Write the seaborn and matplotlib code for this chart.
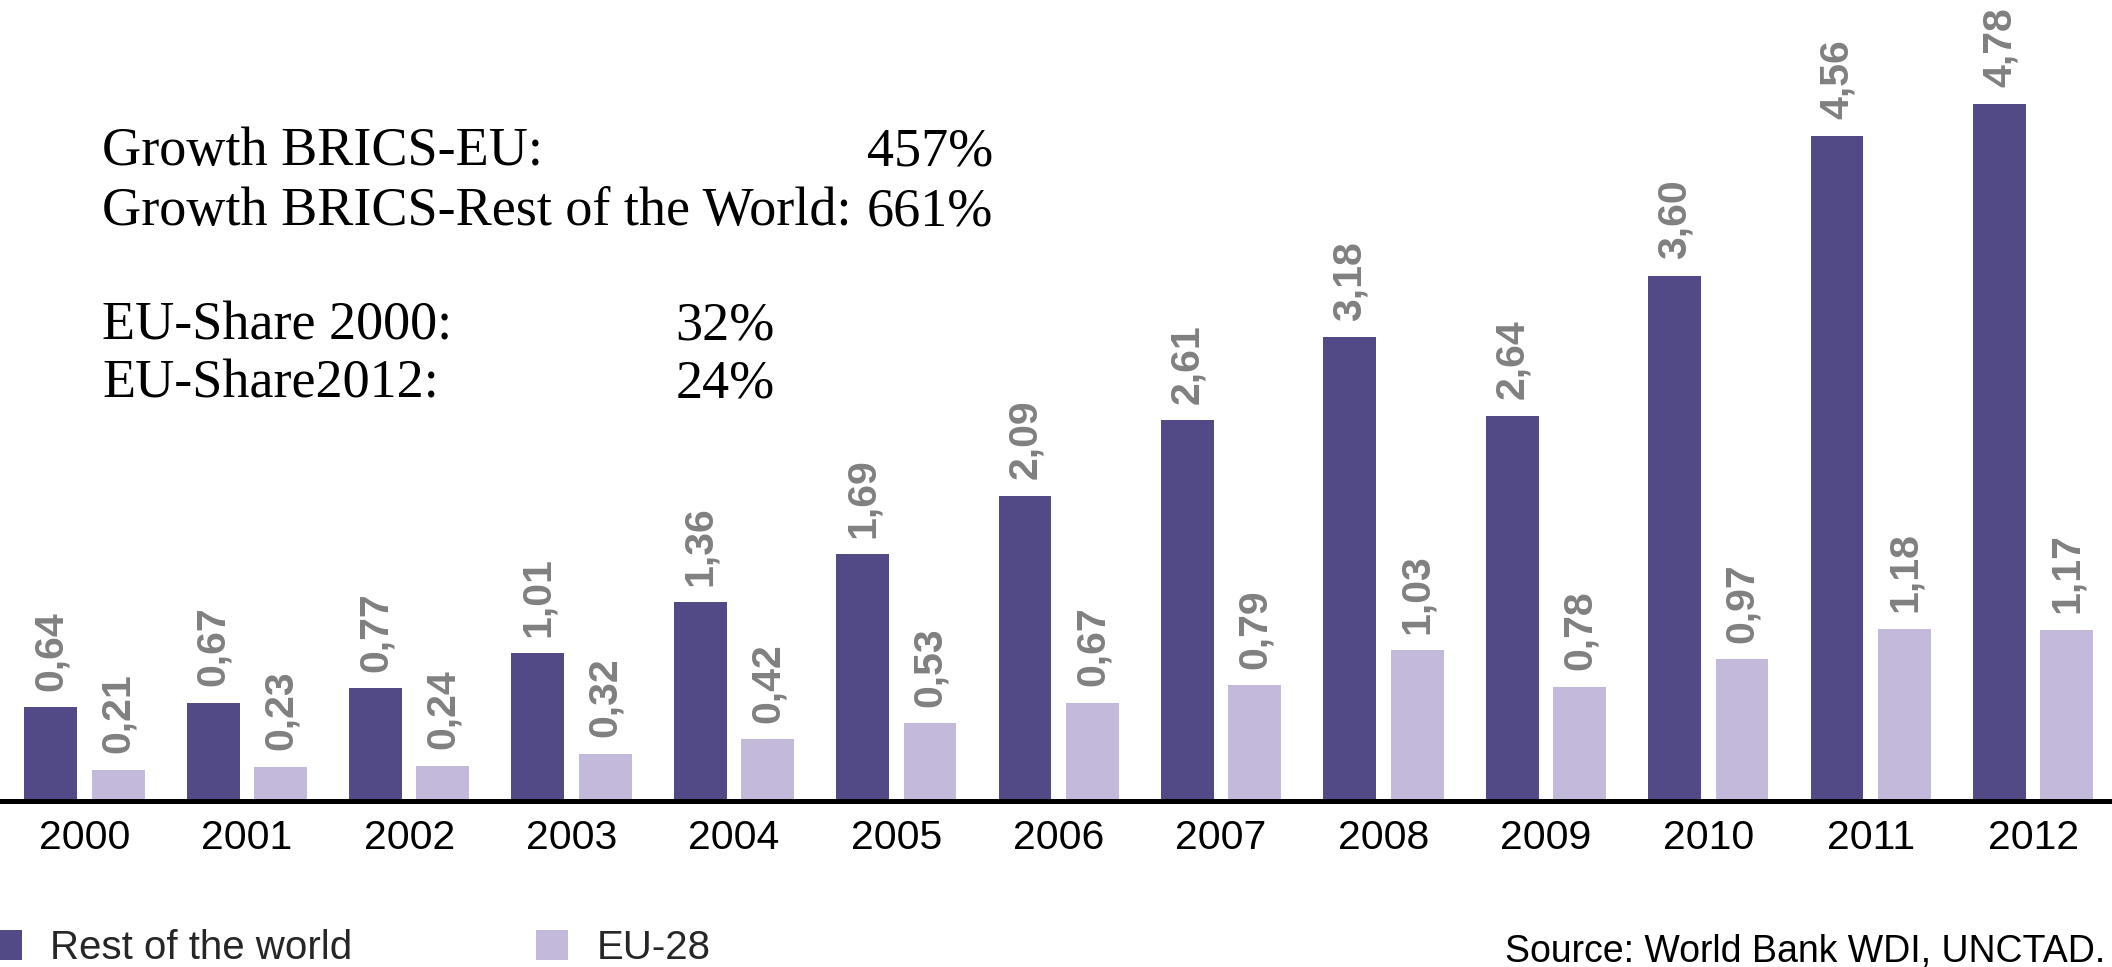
import matplotlib
matplotlib.use("Agg")
import matplotlib.pyplot as plt
import seaborn as sns
import pandas as pd

# ---- data ----
years = ["2000", "2001", "2002", "2003", "2004", "2005", "2006",
         "2007", "2008", "2009", "2010", "2011", "2012"]
rest_of_world = [0.64, 0.67, 0.77, 1.01, 1.36, 1.69, 2.09, 2.61, 3.18, 2.64, 3.60, 4.56, 4.78]
eu28 = [0.21, 0.23, 0.24, 0.32, 0.42, 0.53, 0.67, 0.79, 1.03, 0.78, 0.97, 1.18, 1.17]
series_names = ["Rest of the world", "EU-28"]
colors = ["#524A87", "#C3B9DA"]

annot_labels = ["Growth BRICS-EU:", "Growth BRICS-Rest of the World:", "EU-Share 2000:", "EU-Share2012:"]
annot_values = ["457%", "661%", "32%", "24%"]
source_text = "Source: World Bank WDI, UNCTAD."

df = pd.DataFrame({
    "year": years * 2,
    "series": [series_names[0]] * len(years) + [series_names[1]] * len(years),
    "value": rest_of_world + eu28,
})

sns.set_style("white")
plt.rcParams["font.family"] = ["Liberation Sans", "DejaVu Sans"]

W, H = 2112, 967
fig = plt.figure(figsize=(W / 100, H / 100), dpi=100)
ax = fig.add_axes([0, (H - 800.5) / H, 1, 800.5 / H])

sns.barplot(data=df, x="year", y="value", hue="series", order=years,
            hue_order=series_names, palette=colors, width=0.83, gap=0.216,
            linewidth=0, edgecolor="none", saturation=1, ax=ax, legend=True)

ax.set_xlim(-0.52, 12.486)
ax.set_ylim(0, 800.5 / 145.7)

for cont in ax.containers:
    vals = [b.get_height() for b in cont]
    ax.bar_label(cont, labels=[f"{v:.2f}".replace(".", ",") for v in vals],
                 rotation=90, padding=12, fontsize=29.5, fontweight="bold",
                 color="#808080", clip_on=False)

for s in ["top", "right", "left"]:
    ax.spines[s].set_visible(False)
ax.spines["bottom"].set_color("black")
ax.spines["bottom"].set_linewidth(3.6)
ax.set_yticks([])
ax.tick_params(axis="x", length=0, pad=13, labelsize=29.5, labelcolor="black")
ax.set_xlabel("")
ax.set_ylabel("")

handles, labels = ax.get_legend_handles_labels()
ax.get_legend().remove()
fig.legend(handles, labels, loc="center left", bbox_to_anchor=(-10 / W, 19 / H),
           ncol=2, frameon=False, fontsize=29, handlelength=0.8, handleheight=0.8,
           handletextpad=0.7, columnspacing=4.55, borderpad=0, borderaxespad=0)

fig.text(2105 / W, 1 - 962 / H, source_text, ha="right", va="baseline",
         fontsize=27, color="black")

# annotation block (serif)
baselines = [165, 225, 340, 397]
value_right = [993, 993, 775, 775]
for lab, val, yb, xr in zip(annot_labels, annot_values, baselines, value_right):
    fig.text(102 / W, 1 - yb / H, lab, ha="left", va="baseline",
             fontsize=39, family="Liberation Serif", color="black")
    fig.text(xr / W, 1 - yb / H, val, ha="right", va="baseline",
             fontsize=39, family="Liberation Serif", color="black")

fig.savefig("out.png", dpi=100)
